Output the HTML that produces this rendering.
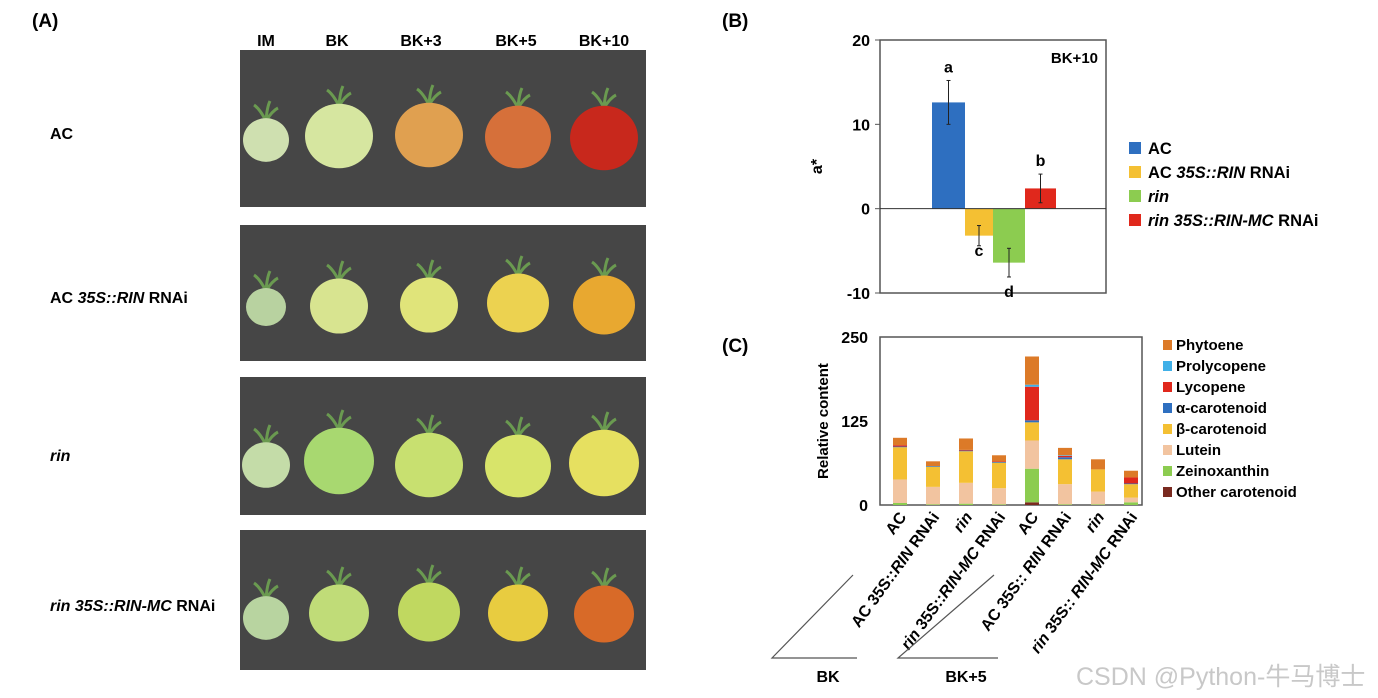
<!DOCTYPE html>
<html><head><meta charset="utf-8"><style>
html,body{margin:0;padding:0;background:#fff;}
svg{display:block;font-family:"Liberation Sans",Arial,sans-serif;}
</style></head><body>
<svg id="fig" width="1378" height="698" viewBox="0 0 1378 698">
<g id="panelA">
<text x="32" y="27" font-size="19" font-weight="bold">(A)</text>
<g font-size="16" font-weight="bold" text-anchor="middle">
<text x="266" y="46">IM</text>
<text x="337" y="46">BK</text>
<text x="421" y="46">BK+3</text>
<text x="516" y="46">BK+5</text>
<text x="604" y="46">BK+10</text>
</g>
<g font-size="16" font-weight="bold">
<text x="50" y="139">AC</text>
<text x="50" y="303">AC <tspan font-style="italic">35S::RIN</tspan> RNAi</text>
<text x="50" y="461" font-style="italic">rin</text>
<text x="50" y="611"><tspan font-style="italic">rin 35S::RIN-MC</tspan> RNAi</text>
</g>
<g id="photos"></g>
</g>

<g id="panelB">
<text x="722" y="27" font-size="19" font-weight="bold">(B)</text>
</g>
<g id="panelC">
<text x="722" y="352" font-size="19" font-weight="bold">(C)</text>
</g>
<text x="1076" y="685" font-size="25" fill="#c8c8c8" font-family="'Liberation Sans','Noto Sans CJK SC',sans-serif">CSDN @Python-牛马博士</text>
</svg>
<script>
const NS="http://www.w3.org/2000/svg";
function mk(tag,attrs,parent){const e=document.createElementNS(NS,tag);for(const k in attrs)e.setAttribute(k,attrs[k]);parent.appendChild(e);return e;}

// ---- Panel A (photos) ----
const photoRows=[[50,207],[225,361],[377,515],[530,670]];
const tomatoX=[266,339,429,518,604];
const tomatoY=[[140,136,135,137,138],[307,306,305,303,305],[465,461,465,466,463],[618,613,612,613,614]];
const tomatoR=[[23,34,34,33,34],[20,29,29,31,31],[24,35,34,33,35],[23,30,31,30,30]];
const tomatoC=[["#cfe0b0","#d6e6a0","#e0a050","#d6703a","#c8281c"],["#b8d2a0","#d8e490","#e0e47a","#ecd250","#e8a830"],["#c4dca8","#a8d870","#c8e070","#d8e46a","#e6e060"],["#b8d4a0","#c0dc78","#c0d860","#e8cc40","#d86a28"]];
const photos=document.getElementById('photos');
photoRows.forEach((r,i)=>{
  const rect=mk('rect',{x:240,y:r[0],width:406,height:r[1]-r[0],fill:'#464646'},photos);
  
  
  tomatoX.forEach((x,j)=>{
    const y=tomatoY[i][j],rr=tomatoR[i][j];
    const st=mk('path',{d:`M${x} ${y-rr+4} q-6 -12 -12 -16 M${x} ${y-rr+4} q1 -14 4 -20 M${x} ${y-rr+4} q6 -10 12 -13`,stroke:'#6a9a50','stroke-width':3,fill:'none'},photos);
    
    
    const c=mk('ellipse',{cx:x,cy:y,rx:rr,ry:rr*0.95,fill:tomatoC[i][j]},photos);
    
    
  });
});

// ---- Panel B ----
const bCats=["AC","AC 35S::RIN RNAi","rin","rin 35S::RIN-MC RNAi"];
const bVals=[12.6,-3.2,-6.4,2.4];
const bErr=[2.6,1.2,1.7,1.7];
const bLetters=["a","c","d","b"];
const bColors=["#2e6fc0","#f4c033","#8ccc50","#e0281c"];
const bTicks=[20,10,0,-10];
const pB=document.getElementById('panelB');
const bx0=880,bx1=1106,by0=40,by1=293,bmin=-10,bmax=20;
const yB=v=>by0+(bmax-v)/(bmax-bmin)*(by1-by0);
const bBarX=[932,965,993,1025],bBarW=[33,28,32,31];
let e=mk('rect',{x:bx0,y:by0,width:bx1-bx0,height:by1-by0,fill:'none',stroke:'#555','stroke-width':1.5},pB);


bTicks.forEach(t=>{
  const tk=mk('line',{x1:bx0-5,x2:bx0,y1:yB(t),y2:yB(t),stroke:'#555'},pB);
  
  
  const tl=mk('text',{x:bx0-10,y:yB(t)+6,'text-anchor':'end','font-size':16,'font-weight':'bold'},pB);
  tl.textContent=t;
  
  
});
e=mk('text',{transform:`translate(822,${yB(5)}) rotate(-90)`,'text-anchor':'middle','font-size':16,'font-weight':'bold'},pB);
e.textContent='a*';


e=mk('text',{x:1098,y:63,'text-anchor':'end','font-size':15,'font-weight':'bold'},pB);
e.textContent='BK+10';


bVals.forEach((v,i)=>{
  const y=Math.min(yB(v),yB(0)),h=Math.abs(yB(v)-yB(0));
  const b=mk('rect',{x:bBarX[i],y:y,width:bBarW[i],height:h,fill:bColors[i]},pB);
  
  
  const cx=bBarX[i]+bBarW[i]/2;
  const eb=mk('line',{x1:cx,x2:cx,y1:yB(v+bErr[i]),y2:yB(v-bErr[i]),stroke:'#222','stroke-width':1},pB);
  
  
  [v+bErr[i],v-bErr[i]].forEach(w=>{const c=mk('line',{x1:cx-2,x2:cx+2,y1:yB(w),y2:yB(w),stroke:'#222'},pB);
    
    });
  const ly=v>=0?yB(v+bErr[i])-8:yB(v-bErr[i])+(i===2?8:-2)+12;
  const lt=mk('text',{x:cx,y:ly,'text-anchor':'middle','font-size':16,'font-weight':'bold'},pB);
  lt.textContent=bLetters[i];
  
  
});
e=mk('line',{x1:bx0,x2:bx1,y1:yB(0),y2:yB(0),stroke:'#333','stroke-width':1},pB);


const bLegendHtml=['AC','AC <tspan font-style="italic">35S::RIN</tspan> RNAi','<tspan font-style="italic">rin</tspan>','<tspan font-style="italic">rin 35S::RIN-MC</tspan> RNAi'];
bCats.forEach((c,i)=>{
  const y=148+i*24;
  const s=mk('rect',{x:1129,y:y-6,width:12,height:12,fill:bColors[i]},pB);
  
  
  const t=mk('text',{x:1148,y:y+6,'font-size':16.5,'font-weight':'bold'},pB);
  t.innerHTML=bLegendHtml[i];
  
  
});

// ---- Panel C ----
const cCats=["AC","AC 35S::RIN RNAi","rin","rin 35S::RIN-MC RNAi","AC","AC 35S:: RIN RNAi","rin","rin 35S:: RIN-MC RNAi"];
const cSeries=["Other carotenoid","Zeinoxanthin","Lutein","β-carotenoid","α-carotenoid","Lycopene","Prolycopene","Phytoene"];
const cColors=["#7a2a20","#8ccc50","#f2c4a0","#f4c033","#2e6fc0","#e0281c","#40b0e8","#dc7a28"];
const other=[0,0,0,0,4,0,0,0];
const zein=[3,1,2,1,50,1,1,4];
const lutein=[35,26,31,24,42,30,19,7];
const betaCar=[48,30,47,38,27,37,33,20];
const alphaCar=[1,1,1,1,3,3,0,1];
const lycopene=[2,0,1,1,50,2,0,9];
const prolycopene=[0,0,0,0,3,1,0,0];
const phytoene=[11,7,17,9,42,11,15,10];
const cStack=[other,zein,lutein,betaCar,alphaCar,lycopene,prolycopene,phytoene];
const cTicks=[0,125,250];
const pC=document.getElementById('panelC');
const cx0=880,cx1=1142,cy0=337,cy1=505,cmax=250;
const yC=v=>cy1-v/cmax*(cy1-cy0);
const xC=i=>cx0+20+i*33;
const cw=14;
e=mk('rect',{x:cx0,y:cy0,width:cx1-cx0,height:cy1-cy0,fill:'none',stroke:'#555','stroke-width':1.5},pC);


cTicks.forEach(t=>{
  const tl=mk('text',{x:cx0-12,y:yC(t)+6,'text-anchor':'end','font-size':16,'font-weight':'bold'},pC);
  tl.textContent=t;
  
  
});
e=mk('text',{transform:`translate(828,${(cy0+cy1)/2}) rotate(-90)`,'text-anchor':'middle','font-size':15,'font-weight':'bold'},pC);
e.textContent='Relative content';


cCats.forEach((c,i)=>{
  let acc=0;
  cStack.forEach((s,k)=>{
    const v=s[i]; if(v<=0) return;
    const r=mk('rect',{x:xC(i)-cw/2,y:yC(acc+v),width:cw,height:yC(acc)-yC(acc+v),fill:cColors[k]},pC);
    
    
    acc+=v;
  });
  const t=mk('text',{transform:`translate(${xC(i)+7},${cy1+12}) rotate(-54)`,'text-anchor':'end','font-size':16,'font-weight':'bold'},pC);
  if(c==='rin'){t.innerHTML='<tspan font-style="italic">rin</tspan>';}
  else if(c.startsWith('rin ')){t.innerHTML='<tspan font-style="italic">rin</tspan> 35S::'+(i>4?' ':'')+'<tspan font-style="italic">RIN-MC</tspan> RNAi';}
  else if(c.startsWith('AC ')){t.innerHTML='AC 35S::'+(i>4?' ':'')+'<tspan font-style="italic">RIN</tspan> RNAi';}
  else t.textContent=c;
  
  
});
[[772,853,'BK',828],[898,994,'BK+5',966]].forEach(g=>{
  const p=mk('path',{d:`M${g[1]} 575 L${g[0]} 658 L${g[1]+4} 658`,fill:'none',stroke:'#555','stroke-width':1.2},pC);
  
  
  const t=mk('text',{x:g[3],y:682,'text-anchor':'middle','font-size':16,'font-weight':'bold'},pC);
  t.textContent=g[2];
  
  
});
const legOrder=[7,6,5,4,3,2,1,0];
legOrder.forEach((k,j)=>{
  const y=345+j*21;
  const s=mk('rect',{x:1163,y:y-5,width:9,height:10,fill:cColors[k]},pC);
  
  
  const t=mk('text',{x:1176,y:y+5,'font-size':15,'font-weight':'bold'},pC);
  t.textContent=cSeries[k];
  
  
});
</script>
</body></html>
